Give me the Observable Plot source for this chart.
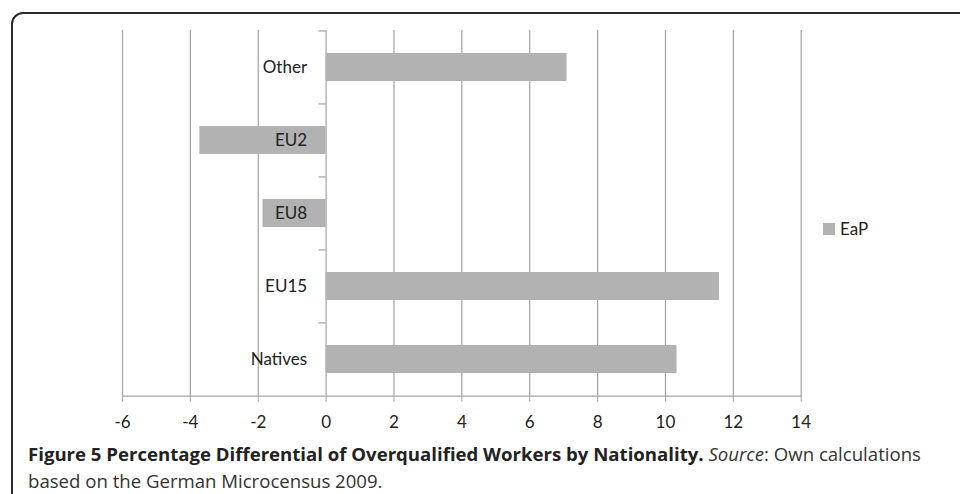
<!DOCTYPE html>
<html>
<head>
<meta charset="utf-8">
<script src="https://cdn.jsdelivr.net/npm/d3@7"></script>
<script src="https://cdn.jsdelivr.net/npm/@observablehq/plot@0.6"></script>
<style>
  html, body { margin: 0; padding: 0; background: #fff; }
  #wrap { position: relative; width: 960px; height: 494px; overflow: hidden; }
  #frame { position: absolute; left: 11px; top: 12px; width: 1000px; height: 600px;
           border: 2px solid #2b2b2b; border-radius: 12px 0 0 0; box-sizing: border-box; }
  #chart { position: absolute; left: 0; top: 0; }
  #legend { position: absolute; left: 823px; top: 218px; font-family: Lato, sans-serif; font-size: 17px; color: #222;
            display: flex; align-items: center; }
  #legend span.sw { display: inline-block; width: 12px; height: 12px; background: #b2b2b2; margin-right: 5px; }
  #caption { position: absolute; left: 28px; top: 440px; width: 920px; font-family: "Open Sans", sans-serif;
             font-size: 18.6px; line-height: 27px; color: #333; white-space: nowrap; }
  #caption div { height: 27px; }
  #caption b { color: #222; }
</style>
</head>
<body>
<div id="wrap">
  <div id="frame"></div>
  <div id="chart"></div>
  <div id="legend"><span class="sw"></span><span>EaP</span></div>
  <div id="caption">
    <div><b>Figure 5 Percentage Differential of Overqualified Workers by Nationality.</b> <i>Source</i>: Own calculations</div>
    <div>based on the German Microcensus 2009.</div>
  </div>
</div>
<script>
const categories = ["Other", "EU2", "EU8", "EU15", "Natives"];
const eapValues = [7.1, -3.72, -1.86, 11.59, 10.34];
const xTicks = [-6, -4, -2, 0, 2, 4, 6, 8, 10, 12, 14];
const seriesName = "EaP";

const data = categories.map((c, i) => ({category: c, value: eapValues[i]}));

const W = 960, H = 440;
const mTop = 30, mBottom = 44.3, mLeft = 122, mRight = 159.3;
const step = (H - mTop - mBottom) / categories.length;

const chart = Plot.plot({
  width: W,
  height: H,
  marginTop: mTop,
  marginBottom: mBottom,
  marginLeft: mLeft,
  marginRight: mRight,
  style: {fontFamily: "Lato, sans-serif", fontSize: "17px", color: "#222", background: "transparent"},
  x: {domain: [-6, 14], ticks: xTicks},
  y: {domain: categories, paddingInner: 0.61, paddingOuter: 0.305, axis: null},
  marks: [
    Plot.ruleX(xTicks, {stroke: "#a3a3a3", strokeWidth: 1.2}),
    Plot.frame({anchor: "bottom", stroke: "#a3a3a3", strokeWidth: 1.2}),
    Plot.ruleY(categories, {y: d => d, x1: 0, x2: -0.21, dy: -step / 2, stroke: "#a3a3a3", strokeWidth: 1.2}),
    Plot.barX(data, {x: "value", y: "category", fill: "#b2b2b2"}),
    Plot.text(data, {x: () => 0, y: "category", text: "category", textAnchor: "end", dx: -19, fill: "#222", fontSize: 17}),
    Plot.axisX({ticks: xTicks, tickSize: 6, tickPadding: 14, stroke: "#a3a3a3", fill: "#222", label: null, fontSize: 17, tickFormat: d => String(d).replace("−", "-")})
  ]
});
document.getElementById("legend").lastElementChild.textContent = seriesName;
document.getElementById("chart").appendChild(chart);
</script>
</body>
</html>
